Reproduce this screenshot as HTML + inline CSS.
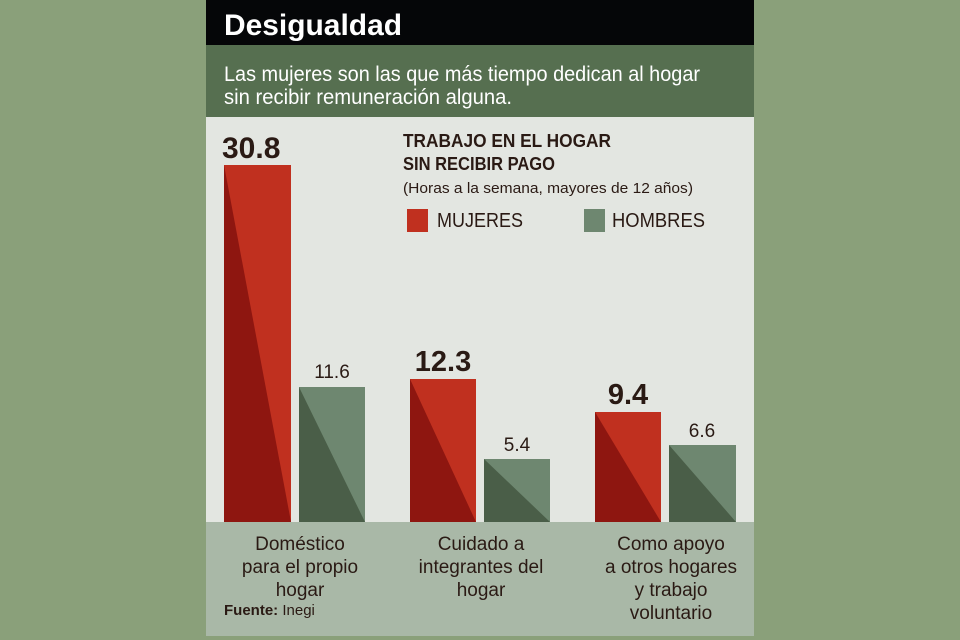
<!DOCTYPE html>
<html><head><meta charset="utf-8"><style>
body{margin:0;width:960px;height:640px;background:#8aa07a;overflow:hidden;font-family:"Liberation Sans",sans-serif}
svg{display:block}
</style></head><body>
<svg width="960" height="640" xmlns="http://www.w3.org/2000/svg" font-family="Liberation Sans, sans-serif">
<rect x="0" y="0" width="960" height="640" fill="#8aa07a"/>
<rect x="206" y="0" width="548" height="45" fill="#050608"/>
<rect x="206" y="45" width="548" height="72" fill="#566f50"/>
<rect x="206" y="117" width="548" height="405" fill="#e3e6e1"/>
<rect x="206" y="522" width="548" height="114" fill="#a9b8a7"/>
<text x="224" y="35" font-size="30" font-weight="bold" fill="#fff" textLength="178" lengthAdjust="spacingAndGlyphs">Desigualdad</text>
<text x="224" y="81" font-size="21" fill="#fff" textLength="476" lengthAdjust="spacingAndGlyphs">Las mujeres son las que más tiempo dedican al hogar</text>
<text x="224" y="104" font-size="21" fill="#fff" textLength="288" lengthAdjust="spacingAndGlyphs">sin recibir remuneración alguna.</text>
<text x="222" y="158" font-size="30" font-weight="bold" fill="#2a1a14">30.8</text>
<text x="403" y="147" font-size="18" font-weight="bold" fill="#2a1a14" textLength="208" lengthAdjust="spacingAndGlyphs">TRABAJO EN EL HOGAR</text>
<text x="403" y="170" font-size="18" font-weight="bold" fill="#2a1a14" textLength="152" lengthAdjust="spacingAndGlyphs">SIN RECIBIR PAGO</text>
<text x="403" y="193" font-size="15" fill="#2a1a14" textLength="290" lengthAdjust="spacingAndGlyphs">(Horas a la semana, mayores de 12 años)</text>
<rect x="407" y="209" width="21" height="23" fill="#c0301f"/>
<text x="437" y="227" font-size="20" fill="#2a1a14" textLength="86" lengthAdjust="spacingAndGlyphs">MUJERES</text>
<rect x="584" y="209" width="21" height="23" fill="#6e8770"/>
<text x="612" y="227" font-size="20" fill="#2a1a14" textLength="93" lengthAdjust="spacingAndGlyphs">HOMBRES</text>
<g>
<rect x="224" y="165" width="67" height="357" fill="#c0301f"/><polygon points="224,165 291,522 224,522" fill="#8e1610"/>
<rect x="299" y="387" width="66" height="135" fill="#6e8770"/><polygon points="299,387 365,522 299,522" fill="#4a5e48"/>
<rect x="410" y="379" width="66" height="143" fill="#c0301f"/><polygon points="410,379 476,522 410,522" fill="#8e1610"/>
<rect x="484" y="459" width="66" height="63" fill="#6e8770"/><polygon points="484,459 550,522 484,522" fill="#4a5e48"/>
<rect x="595" y="412" width="66" height="110" fill="#c0301f"/><polygon points="595,412 661,522 595,522" fill="#8e1610"/>
<rect x="669" y="445" width="67" height="77" fill="#6e8770"/><polygon points="669,445 736,522 669,522" fill="#4a5e48"/>
</g>
<g fill="#2a1a14" text-anchor="middle">
<text x="332" y="378" font-size="19">11.6</text>
<text x="443" y="371" font-size="29" font-weight="bold">12.3</text>
<text x="517" y="451" font-size="19">5.4</text>
<text x="628" y="404" font-size="29" font-weight="bold">9.4</text>
<text x="702" y="437" font-size="19">6.6</text>
<g font-size="19">
<text x="300" y="550">Doméstico</text><text x="300" y="573">para el propio</text><text x="300" y="596">hogar</text>
<text x="481" y="550">Cuidado a</text><text x="481" y="573">integrantes del</text><text x="481" y="596">hogar</text>
<text x="671" y="550">Como apoyo</text><text x="671" y="573">a otros hogares</text><text x="671" y="596">y trabajo</text><text x="671" y="619">voluntario</text>
</g>
</g>
<text x="224" y="615" font-size="15" fill="#2a1a14"><tspan font-weight="bold">Fuente:</tspan> Inegi</text>
</svg>
</body></html>
